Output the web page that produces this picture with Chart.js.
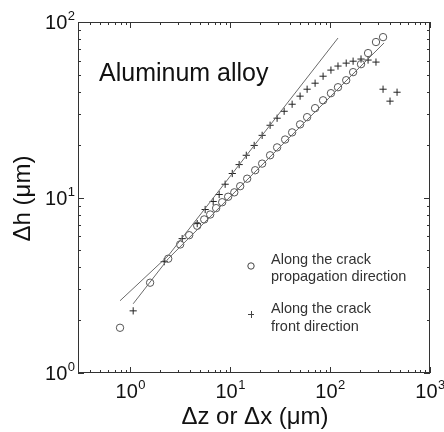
<!DOCTYPE html>
<html>
<head>
<meta charset="utf-8">
<script src="https://cdn.jsdelivr.net/npm/chart.js@4.4.0/dist/chart.umd.min.js"></script>
<style>
  html, body { margin: 0; padding: 0; background: #fff; }
  #wrap { width: 444px; height: 432px; }
</style>
</head>
<body>
<div id="wrap"><canvas id="chart" width="444" height="432"></canvas></div>
<script>
// Along the crack propagation direction (circles)
const propX = [0.79, 1.58, 2.40, 3.16, 3.89, 4.68, 5.50, 6.31, 7.24, 8.32, 9.55, 11.0, 12.6, 14.8, 17.8, 20.9,
               25.1, 29.5, 35.5, 41.7, 50.1, 58.9, 70.8, 85.1, 102, 120, 145, 170, 204, 240, 288, 339];
const propY = [1.81, 3.27, 4.48, 5.4, 6.1, 6.9, 7.5, 8.0, 8.7, 9.4, 10.1, 10.7, 11.6, 12.8, 14.3, 15.6,
               17.4, 19.3, 21.4, 23.5, 26.1, 28.7, 32.3, 35.8, 39.3, 42.5, 46.6, 51.8, 57.5, 66.5, 76.9, 82.0];

// Along the crack front direction (crosses)
const frontX = [1.07, 2.19, 3.31, 4.68, 5.62, 6.76, 7.76, 8.91, 10.5, 12.3, 14.5, 17.4, 20.9, 25.1, 29.5, 34.7,
                41.7, 50.1, 58.9, 70.8, 85.1, 102, 120, 145, 170, 204, 240, 288, 339, 398, 468];
const frontY = [2.26, 4.31, 5.83, 7.1, 8.54, 9.49, 10.4, 11.9, 13.7, 15.4, 17.4, 19.8, 22.6, 25.8, 28.3, 31.0,
                34.0, 37.8, 41.4, 44.8, 49.1, 53.2, 56.1, 58.3, 59.8, 61.5, 60.7, 59.1, 41.4, 35.4, 39.8];

// fitted lines (piecewise power laws)
const fitFrontX = [0.79, 2.4, 120];
const fitFrontY = [2.58, 4.66, 81];
const fitPropX = [1.07, 2.4, 347];
const fitPropY = [2.48, 4.48, 76];

// axis decades (tick labels 10^n)
const xDecades = [0, 1, 2, 3];
const yDecades = [0, 1, 2];

const toPts = (xs, ys) => xs.map((x, i) => ({ x: x, y: ys[i] }));

const FONT = '"Liberation Sans", Arial, sans-serif';

// boxed frame, inward ticks, 10^n labels, titles and legend
const framePlugin = {
    id: 'frame',
    afterDraw(chart) {
        const ctx = chart.ctx;
        const a = chart.chartArea;
        const xs = chart.scales.x;
        const ys = chart.scales.y;
        ctx.save();

        // box
        ctx.strokeStyle = '#333';
        ctx.lineWidth = 1;
        ctx.strokeRect(a.left + 0.5, a.top + 0.5, a.right - a.left - 1, a.bottom - a.top - 1);

        // ticks on all four sides, pointing in
        ctx.beginPath();
        for (let d = -1; d <= 3; d++) {
            for (let s = 1; s <= 9; s++) {
                const v = s * Math.pow(10, d);
                const len = s === 1 ? 6 : 3;
                if (v >= xs.min && v <= xs.max) {
                    const px = Math.round(xs.getPixelForValue(v)) + 0.5;
                    ctx.moveTo(px, a.bottom); ctx.lineTo(px, a.bottom - len);
                    ctx.moveTo(px, a.top); ctx.lineTo(px, a.top + len);
                }
                if (v >= ys.min && v <= ys.max) {
                    const py = Math.round(ys.getPixelForValue(v)) + 0.5;
                    ctx.moveTo(a.left, py); ctx.lineTo(a.left + len, py);
                    ctx.moveTo(a.right, py); ctx.lineTo(a.right - len, py);
                }
            }
        }
        ctx.stroke();

        // tick labels
        ctx.fillStyle = '#111';
        ctx.textBaseline = 'alphabetic';
        const big = '20px ' + FONT, small = '13px ' + FONT;
        xDecades.forEach(n => {
            const px = xs.getPixelForValue(Math.pow(10, n));
            ctx.font = big;
            const w1 = ctx.measureText('10').width;
            ctx.font = small;
            const w2 = ctx.measureText(String(n)).width;
            const x0 = px - (w1 + w2) / 2;
            ctx.font = big;
            ctx.textAlign = 'left';
            ctx.fillText('10', x0, a.bottom + 25);
            ctx.font = small;
            ctx.fillText(String(n), x0 + w1 + 0.5, a.bottom + 16);
        });
        yDecades.forEach(n => {
            const py = ys.getPixelForValue(Math.pow(10, n));
            ctx.font = small;
            const w2 = ctx.measureText(String(n)).width;
            ctx.textAlign = 'left';
            ctx.fillText(String(n), a.left - 3 - w2, py - 2);
            ctx.font = big;
            ctx.textAlign = 'right';
            ctx.fillText('10', a.left - 3.5 - w2, py + 7);
        });

        // axis titles
        ctx.font = '24px ' + FONT;
        ctx.textAlign = 'center';
        ctx.fillText('\u0394z or \u0394x (\u03bcm)', (a.left + a.right) / 2 + 1, a.bottom + 51);
        ctx.save();
        ctx.translate(30, (a.top + a.bottom) / 2 + 1);
        ctx.rotate(-Math.PI / 2);
        ctx.fillText('\u0394h (\u03bcm)', 0, 0);
        ctx.restore();

        // annotation
        ctx.font = '25px ' + FONT;
        ctx.textAlign = 'left';
        ctx.fillText('Aluminum alloy', a.left + 21, a.top + 59);

        // legend
        const lx = a.left + 173, ly = a.top + 244;
        ctx.font = '14.5px ' + FONT;
        ctx.fillStyle = '#333';
        ctx.fillText('Along the crack', lx + 20, ly - 2);
        ctx.fillText('propagation direction', lx + 20, ly + 15);
        ctx.fillText('Along the crack', lx + 20, ly + 47);
        ctx.fillText('front direction', lx + 20, ly + 65);
        ctx.strokeStyle = '#444';
        ctx.beginPath();
        ctx.arc(lx, ly, 3.2, 0, Math.PI * 2);
        ctx.stroke();
        ctx.beginPath();
        ctx.moveTo(lx - 3, ly + 48.5); ctx.lineTo(lx + 3, ly + 48.5);
        ctx.moveTo(lx + 0.5, ly + 45); ctx.lineTo(lx + 0.5, ly + 52);
        ctx.stroke();

        ctx.restore();
    }
};

new Chart(document.getElementById('chart'), {
    type: 'scatter',
    data: {
        datasets: [
            {
                data: toPts(fitFrontX, fitFrontY),
                showLine: true,
                borderColor: '#6a6a6a',
                borderWidth: 1,
                pointRadius: 0
            },
            {
                data: toPts(fitPropX, fitPropY),
                showLine: true,
                borderColor: '#6a6a6a',
                borderWidth: 1,
                pointRadius: 0
            },
            {
                label: 'Along the crack propagation direction',
                data: toPts(propX, propY),
                pointStyle: 'circle',
                pointRadius: 3.7,
                borderColor: '#555',
                borderWidth: 1,
                backgroundColor: 'rgba(0,0,0,0)'
            },
            {
                label: 'Along the crack front direction',
                data: toPts(frontX, frontY),
                pointStyle: 'cross',
                pointRadius: 3.6,
                borderColor: '#222',
                borderWidth: 1
            }
        ]
    },
    options: {
        responsive: false,
        animation: false,
        devicePixelRatio: 1,
        layout: { padding: { left: 78, right: 14, top: 22, bottom: 59 } },
        scales: {
            x: { type: 'logarithmic', min: 0.3, max: 1000, display: false },
            y: { type: 'logarithmic', min: 1, max: 100, display: false }
        },
        plugins: {
            legend: { display: false },
            tooltip: { enabled: false }
        }
    },
    plugins: [framePlugin]
});
</script>
</body>
</html>
